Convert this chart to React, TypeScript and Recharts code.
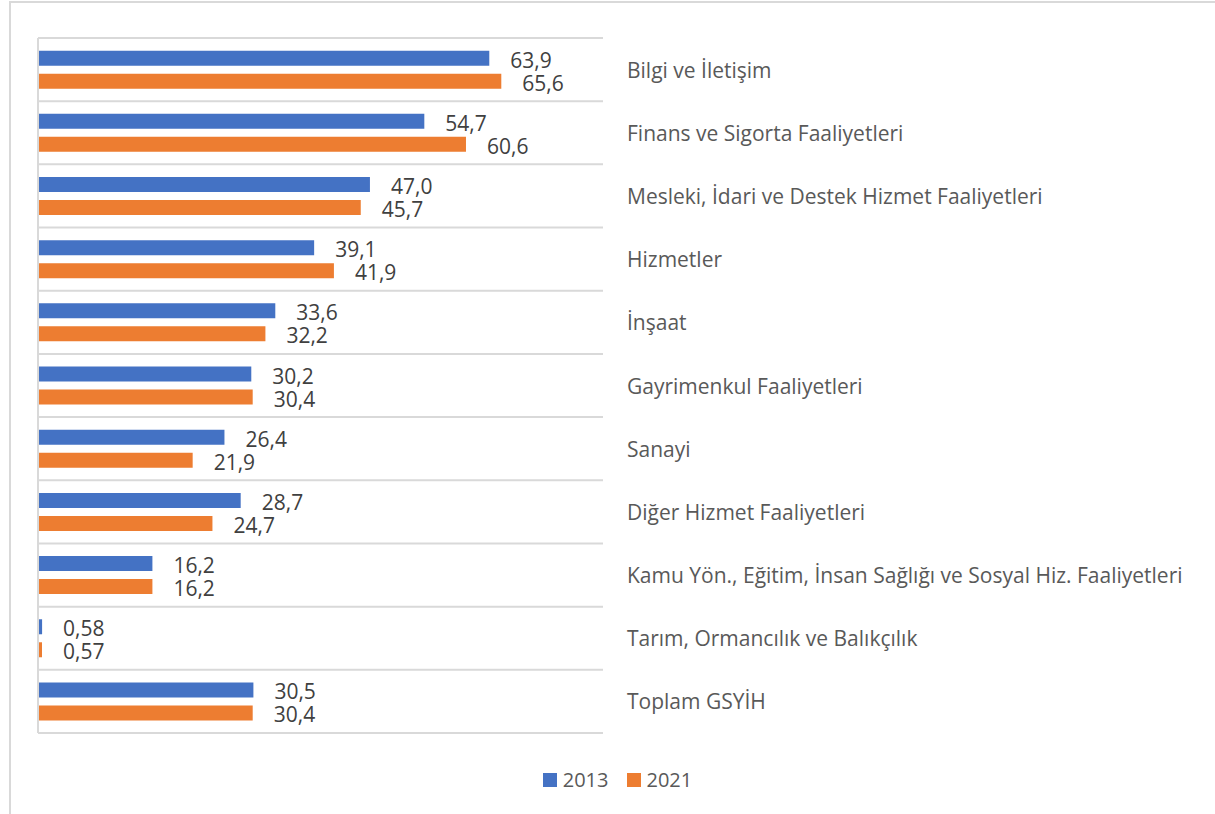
import React from 'react';
import { BarChart, Bar, XAxis, YAxis, CartesianGrid, Legend, LabelList, ReferenceLine } from 'recharts';

const sectors = [
  'Bilgi ve İletişim',
  'Finans ve Sigorta Faaliyetleri',
  'Mesleki, İdari ve Destek Hizmet Faaliyetleri',
  'Hizmetler',
  'İnşaat',
  'Gayrimenkul Faaliyetleri',
  'Sanayi',
  'Diğer Hizmet Faaliyetleri',
  'Kamu Yön., Eğitim, İnsan Sağlığı ve Sosyal Hiz. Faaliyetleri',
  'Tarım, Ormancılık ve Balıkçılık',
  'Toplam GSYİH',
];
const values2013 = [63.9, 54.7, 47.0, 39.1, 33.6, 30.2, 26.4, 28.7, 16.2, 0.58, 30.5];
const values2021 = [65.6, 60.6, 45.7, 41.9, 32.2, 30.4, 21.9, 24.7, 16.2, 0.57, 30.4];

const data = sectors.map((name, i) => ({ name, y2013: values2013[i], y2021: values2021[i] }));

const BLUE = '#4472C4';
const ORANGE = '#ED7D31';
const FONT = '"Open Sans", sans-serif';

const fmt = (v: number) => v.toFixed(v < 1 ? 2 : 1).replace('.', ',');

// lines between categories, not through them
const bandLines = ({ offset }: any) => {
  const n = sectors.length;
  const step = offset.height / n;
  return Array.from({ length: n + 1 }, (_, i) => offset.top + i * step);
};

const CategoryTick = (props: any) => {
  const { x, y, payload } = props;
  return (
    <text x={x} y={y} dy={8} textAnchor="start" fill="#595959" fontSize={21} fontFamily={FONT}>
      {payload.value}
    </text>
  );
};

const LegendContent = () => (
  <div style={{ display: 'flex', justifyContent: 'center', fontFamily: FONT, fontSize: 20, color: '#595959', lineHeight: '28px' }}>
    {[
      { label: '2013', color: BLUE },
      { label: '2021', color: ORANGE },
    ].map((it) => (
      <span key={it.label} style={{ display: 'flex', alignItems: 'center', margin: '0 9px' }}>
        <span style={{ width: 14, height: 14, background: it.color, display: 'inline-block', marginRight: 6 }} />
        {it.label}
      </span>
    ))}
  </div>
);

const valueLabel = (key: string) => (
  <LabelList
    dataKey={key}
    position="right"
    offset={21}
    formatter={(v: any) => fmt(Number(v))}
    fill="#404040"
    fontSize={21}
    fontFamily={FONT}
    dy={2}
  />
);

export default function App() {
  return (
    <div style={{ position: 'fixed', inset: 0, overflow: 'hidden', background: '#fff' }}>
      <div
        style={{
          position: 'absolute',
          left: 9,
          top: 1,
          width: 1240,
          height: 840,
          border: '2px solid #d9d9d9',
          boxSizing: 'border-box',
        }}
      />
      <div style={{ position: 'absolute', left: 0, top: 0 }}>
        <BarChart
          width={1215}
          height={814}
          data={data}
          layout="vertical"
          margin={{ top: 38, right: 0, left: 38, bottom: 53 }}
          barCategoryGap="20%"
          barGap={8}
        >
          <CartesianGrid
            vertical={false}
            stroke="#d9d9d9"
            strokeWidth={2}
            horizontalCoordinatesGenerator={bandLines}
          />
          <XAxis type="number" domain={[0, 80]} hide />
          <YAxis
            type="category"
            dataKey="name"
            orientation="right"
            width={612}
            axisLine={false}
            tickLine={false}
            tickSize={0}
            tickMargin={24}
            tick={<CategoryTick />}
            interval={0}
          />
          <ReferenceLine x={0} stroke="#d9d9d9" strokeWidth={2} />
          <Legend
            verticalAlign="bottom"
            content={<LegendContent />}
            wrapperStyle={{ left: 0, width: 1235, bottom: 20 }}
          />
          <Bar dataKey="y2013" name="2013" fill={BLUE} isAnimationActive={false}>
            {valueLabel('y2013')}
          </Bar>
          <Bar dataKey="y2021" name="2021" fill={ORANGE} isAnimationActive={false}>
            {valueLabel('y2021')}
          </Bar>
        </BarChart>
      </div>
    </div>
  );
}
